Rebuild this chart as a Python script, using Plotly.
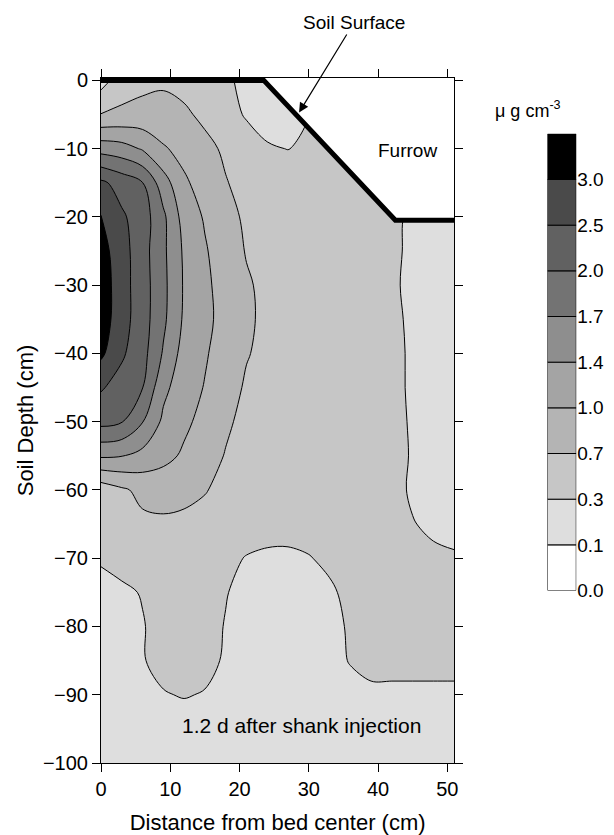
import numpy as np
import plotly.graph_objects as go

# ---------------- data ----------------
x_cm = [0, 3, 6, 9, 12, 15, 18, 21, 24, 27, 30, 33, 36, 39, 42, 45, 48, 51]
depth_cm = [0, -5, -10, -15, -20, -25, -30, -35, -40, -45, -50,
            -55, -60, -65, -70, -75, -80, -85, -90, -95, -100]

# concentration (ug cm-3), one row per depth, one column per distance
conc_row_0 = [0.22, 0.50, 0.60, 0.64, 0.58, 0.50, 0.38, 0.24, 0.22, 0.24, 0.38, 0.50, 0.50, 0.50, 0.50, 0.50, 0.50, 0.50]
conc_row_5 = [0.71, 0.76, 0.79, 0.805, 0.745, 0.62, 0.46, 0.28, 0.22, 0.24, 0.30, 0.50, 0.50, 0.50, 0.50, 0.50, 0.50, 0.50]
conc_row_10 = [1.58, 1.52, 1.36, 1.04, 0.91, 0.775, 0.64, 0.50, 0.34, 0.296, 0.38, 0.48, 0.50, 0.50, 0.50, 0.50, 0.50, 0.50]
conc_row_15 = [2.60, 2.30, 2.01, 1.535, 1.06, 0.88, 0.715, 0.58, 0.50, 0.46, 0.44, 0.46, 0.50, 0.50, 0.50, 0.50, 0.50, 0.50]
conc_row_20 = [3.02, 2.575, 2.25, 1.76, 1.24, 0.97, 0.79, 0.64, 0.56, 0.52, 0.50, 0.50, 0.50, 0.48, 0.46, 0.24, 0.23, 0.23]
conc_row_25 = [3.20, 2.70, 2.20, 1.76, 1.34, 1.04, 0.835, 0.68, 0.58, 0.54, 0.52, 0.52, 0.50, 0.48, 0.42, 0.24, 0.22, 0.22]
conc_row_30 = [3.30, 2.70, 2.225, 1.775, 1.36, 1.08, 0.88, 0.73, 0.62, 0.56, 0.54, 0.52, 0.50, 0.48, 0.38, 0.24, 0.22, 0.22]
conc_row_35 = [3.275, 2.70, 2.225, 1.76, 1.34, 1.10, 0.895, 0.745, 0.62, 0.56, 0.54, 0.52, 0.50, 0.48, 0.42, 0.25, 0.22, 0.22]
conc_row_40 = [3.10, 2.575, 2.175, 1.67, 1.24, 1.04, 0.865, 0.715, 0.62, 0.56, 0.54, 0.52, 0.50, 0.48, 0.44, 0.26, 0.22, 0.22]
conc_row_45 = [2.55, 2.30, 2.01, 1.475, 1.18, 0.985, 0.805, 0.66, 0.58, 0.54, 0.52, 0.50, 0.50, 0.48, 0.44, 0.26, 0.22, 0.22]
conc_row_50 = [2.15, 2.025, 1.71, 1.32, 1.08, 0.91, 0.745, 0.60, 0.54, 0.52, 0.50, 0.50, 0.50, 0.48, 0.46, 0.27, 0.22, 0.22]
conc_row_55 = [1.44, 1.41, 1.28, 1.12, 0.955, 0.82, 0.68, 0.56, 0.52, 0.50, 0.50, 0.50, 0.50, 0.48, 0.46, 0.28, 0.23, 0.22]
conc_row_60 = [0.46, 0.64, 0.775, 0.805, 0.775, 0.715, 0.60, 0.54, 0.50, 0.50, 0.50, 0.50, 0.50, 0.48, 0.44, 0.27, 0.24, 0.24]
conc_row_65 = [0.42, 0.50, 0.62, 0.64, 0.62, 0.58, 0.54, 0.50, 0.48, 0.46, 0.46, 0.48, 0.50, 0.50, 0.48, 0.32, 0.26, 0.24]
conc_row_70 = [0.34, 0.42, 0.50, 0.52, 0.52, 0.48, 0.40, 0.29, 0.26, 0.26, 0.29, 0.38, 0.48, 0.50, 0.50, 0.46, 0.38, 0.34]
conc_row_75 = [0.24, 0.27, 0.32, 0.46, 0.50, 0.46, 0.32, 0.24, 0.22, 0.22, 0.23, 0.27, 0.40, 0.48, 0.50, 0.50, 0.50, 0.48]
conc_row_80 = [0.23, 0.25, 0.29, 0.42, 0.48, 0.44, 0.29, 0.23, 0.21, 0.20, 0.21, 0.25, 0.34, 0.46, 0.48, 0.50, 0.50, 0.48]
conc_row_85 = [0.22, 0.24, 0.29, 0.40, 0.44, 0.40, 0.28, 0.23, 0.20, 0.19, 0.20, 0.24, 0.32, 0.42, 0.42, 0.42, 0.42, 0.42]
conc_row_90 = [0.21, 0.22, 0.24, 0.29, 0.32, 0.29, 0.24, 0.21, 0.19, 0.18, 0.19, 0.21, 0.24, 0.26, 0.26, 0.26, 0.26, 0.26]
conc_row_95 = [0.20, 0.21, 0.22, 0.23, 0.22, 0.22, 0.20, 0.19, 0.18, 0.17, 0.18, 0.19, 0.20, 0.21, 0.21, 0.22, 0.22, 0.22]
conc_row_100 = [0.20, 0.20, 0.21, 0.21, 0.21, 0.20, 0.19, 0.18, 0.18, 0.17, 0.18, 0.19, 0.20, 0.20, 0.21, 0.21, 0.21, 0.21]

conc = [conc_row_0, conc_row_5, conc_row_10, conc_row_15, conc_row_20,
        conc_row_25, conc_row_30, conc_row_35, conc_row_40, conc_row_45,
        conc_row_50, conc_row_55, conc_row_60, conc_row_65, conc_row_70,
        conc_row_75, conc_row_80, conc_row_85, conc_row_90, conc_row_95,
        conc_row_100]

# contour levels of the legend bar (non-uniform) and their labels
level_values = [0.0, 0.1, 0.3, 0.7, 1.0, 1.4, 1.7, 2.0, 2.5, 3.0]
level_labels = ["0.0", "0.1", "0.3", "0.7", "1.0", "1.4", "1.7", "2.0", "2.5", "3.0"]
band_colors = ["#ffffff", "#dedede", "#c6c6c6", "#b4b4b4", "#a4a4a4",
               "#8e8e8e", "#737373", "#616161", "#4a4a4a", "#000000"]

# soil surface profile (bed top, furrow side slope, furrow bottom)
surface_x = [0, 23.5, 42.5, 51]
surface_y = [0, 0, -20.5, -20.5]

x_range = [0, 51]
y_range = [-100, 0.35]

FONT = "Liberation Sans, Arial, Helvetica, sans-serif"

# ---------------- map to equally spaced level bands ----------------
level_edges = level_values + [3.5]
z_index = np.interp(np.array(conc, dtype=float), level_edges, np.arange(len(level_edges)))

n_bands = len(band_colors)
colorscale = []
for k, c in enumerate(band_colors):
    colorscale.append([k / n_bands, c])
    colorscale.append([(k + 1) / n_bands, c])

fig = go.Figure()

fig.add_trace(go.Contour(
    x=x_cm, y=depth_cm, z=z_index,
    autocontour=False,
    contours=dict(start=1, end=9, size=1, coloring="fill", showlines=True),
    line=dict(color="black", width=1, smoothing=1.0),
    colorscale=colorscale,
    showscale=False,
    hoverinfo="skip",
))

# white area above the soil surface (furrow)
fx = surface_x + [surface_x[-1], surface_x[0]]
fy = surface_y + [y_range[1], y_range[1]]
fig.add_trace(go.Scatter(
    x=fx, y=fy, mode="lines", fill="toself", fillcolor="white",
    line=dict(width=0, color="white"), hoverinfo="skip", showlegend=False,
))

# thick soil-surface line
fig.add_trace(go.Scatter(
    x=surface_x, y=surface_y, mode="lines",
    line=dict(color="black", width=5), hoverinfo="skip", showlegend=False,
))

# legend bar: one equal-height segment per concentration band
band_index = list(range(n_bands))
fig.add_trace(go.Bar(
    x=[0] * n_bands, y=[1] * n_bands, base=band_index, width=1,
    marker=dict(color=band_colors, line=dict(color="black", width=1)),
    xaxis="x2", yaxis="y2", hoverinfo="skip", showlegend=False,
))

axis_common = dict(
    showline=True, linecolor="black", linewidth=1, mirror="ticks",
    ticks="outside", ticklen=8, tickwidth=1, tickcolor="black",
    showgrid=False, zeroline=False,
    tickfont=dict(family=FONT, size=20, color="black"),
)

# paper spans x 101..612 px, y 78..765 px
fig.update_layout(
    xaxis=dict(
        domain=[0, 0.6967], anchor="y",
        range=x_range, tickmode="array", tickvals=[0, 10, 20, 30, 40, 50],
        title=dict(text="Distance from bed center (cm)", standoff=18,
                   font=dict(family=FONT, size=22, color="black")),
        **axis_common,
    ),
    yaxis=dict(
        domain=[0, 1], anchor="x",
        range=y_range, tickmode="array",
        tickvals=[0, -10, -20, -30, -40, -50, -60, -70, -80, -90, -100],
        title=dict(text="Soil Depth (cm)", standoff=3,
                   font=dict(family=FONT, size=22, color="black")),
        **axis_common,
    ),
    xaxis2=dict(
        domain=[0.8806, 0.9374], anchor="y2", range=[-0.5, 0.5],
        visible=False, fixedrange=True,
    ),
    yaxis2=dict(
        domain=[0.2518, 0.9185], anchor="x2", side="right",
        range=[0, n_bands], tickmode="array",
        tickvals=band_index, ticktext=level_labels,
        ticks="", showline=False, showgrid=False, zeroline=False,
        tickfont=dict(family=FONT, size=19, color="black"),
        fixedrange=True,
    ),
)

fig.add_annotation(
    x=28.6, y=-4.7, xref="x", yref="y",
    text="Soil Surface", showarrow=True,
    ax=55, ay=-90, axref="pixel", ayref="pixel",
    arrowhead=2, arrowsize=1.6, arrowwidth=1.2, arrowcolor="black",
    font=dict(family=FONT, size=19, color="black"),
)
fig.add_annotation(
    x=44.3, y=-10.2, xref="x", yref="y", text="Furrow", showarrow=False,
    font=dict(family=FONT, size=19, color="black"),
)
fig.add_annotation(
    x=28.9, y=-94.5, xref="x", yref="y", text="1.2 d after shank injection",
    showarrow=False, font=dict(family=FONT, size=21, color="black"),
)
fig.add_annotation(
    x=0.912, y=0.974, xref="paper", yref="paper",
    text="\u03bc g cm<sup>-3</sup>", showarrow=False,
    font=dict(family=FONT, size=18, color="black"),
)

fig.update_layout(
    width=614, height=835, autosize=False,
    margin=dict(l=101, r=2, t=78, b=70),
    paper_bgcolor="white", plot_bgcolor="white",
    showlegend=False, barmode="overlay",
)

fig.write_html(
    "out.html",
    config={"displayModeBar": False, "staticPlot": True},
    post_script="document.body.style.margin='0';document.body.style.padding='0';",
)
